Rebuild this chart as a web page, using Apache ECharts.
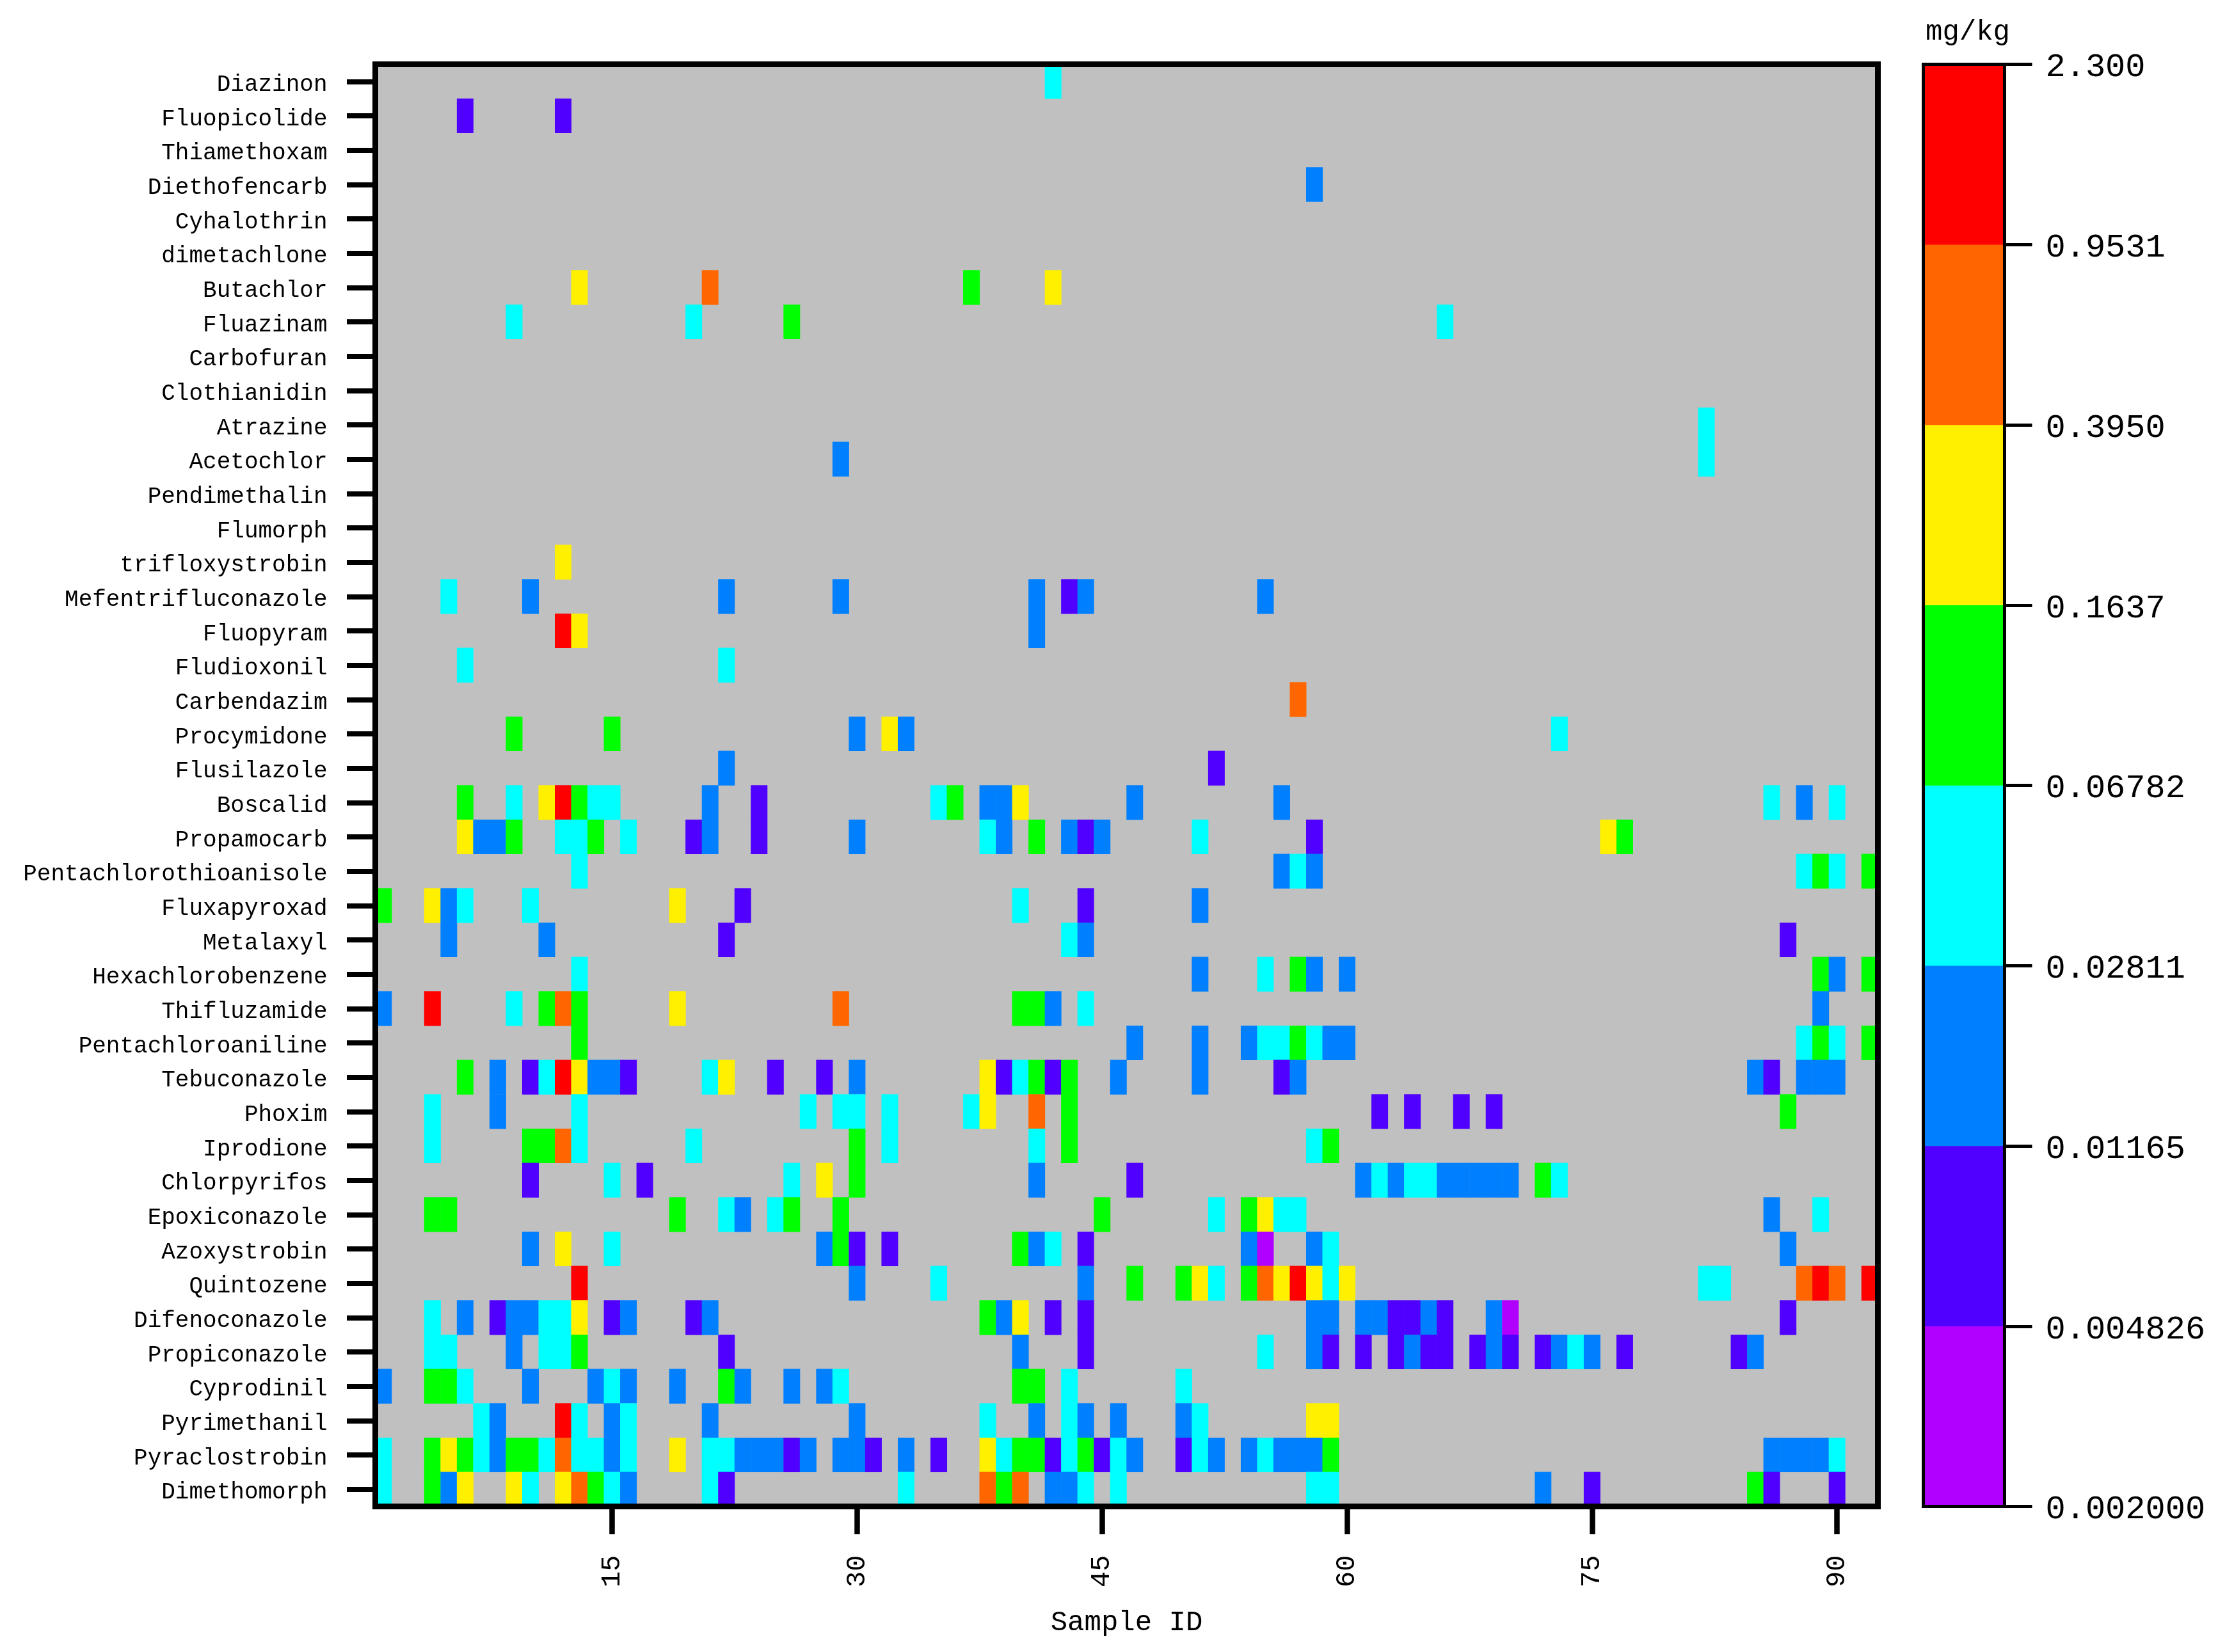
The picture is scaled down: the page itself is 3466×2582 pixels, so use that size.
<!DOCTYPE html>
<html>
<head>
<meta charset="utf-8">
<style>html,body{margin:0;padding:0;background:#fff}#c{width:3466px;height:2582px}</style>
<script src="https://cdn.jsdelivr.net/npm/echarts@6/dist/echarts.min.js"></script>
</head>
<body>
<div id="c"></div>
<script>
// Representative mg/kg concentration
const V=0.0031, I=0.0075, B=0.018, C=0.044, G=0.105, Y=0.25, O=0.61, R=1.48;

const pesticides = ['Diazinon','Fluopicolide','Thiamethoxam','Diethofencarb','Cyhalothrin','dimetachlone','Butachlor','Fluazinam','Carbofuran','Clothianidin','Atrazine','Acetochlor','Pendimethalin','Flumorph','trifloxystrobin','Mefentrifluconazole','Fluopyram','Fludioxonil','Carbendazim','Procymidone','Flusilazole','Boscalid','Propamocarb','Pentachlorothioanisole','Fluxapyroxad','Metalaxyl','Hexachlorobenzene','Thifluzamide','Pentachloroaniline','Tebuconazole','Phoxim','Iprodione','Chlorpyrifos','Epoxiconazole','Azoxystrobin','Quintozene','Difenoconazole','Propiconazole','Cyprodinil','Pyrimethanil','Pyraclostrobin','Dimethomorph'];

const sampleCount = 92;
const thresholds = [0.002,0.004826,0.01165,0.02811,0.06782,0.1637,0.395,0.9531,2.3];
const thresholdLabels = ['0.002000','0.004826','0.01165','0.02811','0.06782','0.1637','0.3950','0.9531','2.300'];
const bandColors = ['#b000ff','#5000ff','#0080ff','#00ffff','#00ff00','#fff000','#ff6600','#ff0000'];
const bandValues = [V,I,B,C,G,Y,O,R];

// [sample id, concentration] for each pesticide
const Diazinon=[[42,C]];
const Fluopicolide=[[6,I],[12,I]];
const Thiamethoxam=[];
const Diethofencarb=[[58,B]];
const Cyhalothrin=[];
const dimetachlone=[];
const Butachlor=[[13,Y],[21,O],[37,G],[42,Y]];
const Fluazinam=[[9,C],[20,C],[26,G],[66,C]];
const Carbofuran=[];
const Clothianidin=[];
const Atrazine=[[82,C]];
const Acetochlor=[[29,B],[82,C]];
const Pendimethalin=[];
const Flumorph=[];
const trifloxystrobin=[[12,Y]];
const Mefentrifluconazole=[[5,C],[10,B],[22,B],[29,B],[41,B],[43,I],[44,B],[55,B]];
const Fluopyram=[[12,R],[13,Y],[41,B]];
const Fludioxonil=[[6,C],[22,C]];
const Carbendazim=[[57,O]];
const Procymidone=[[9,G],[15,G],[30,B],[32,Y],[33,B],[73,C]];
const Flusilazole=[[22,B],[52,I]];
const Boscalid=[[6,G],[9,C],[11,Y],[12,R],[13,G],[14,C],[15,C],[21,B],[24,I],[35,C],[36,G],[38,B],[39,B],[40,Y],[47,B],[56,B],[86,C],[88,B],[90,C]];
const Propamocarb=[[6,Y],[7,B],[8,B],[9,G],[12,C],[13,C],[14,G],[16,C],[20,I],[21,B],[24,I],[30,B],[38,C],[39,B],[41,G],[43,B],[44,I],[45,B],[51,C],[58,I],[76,Y],[77,G]];
const Pentachlorothioanisole=[[13,C],[56,B],[57,C],[58,B],[88,C],[89,G],[90,C],[92,G]];
const Fluxapyroxad=[[1,G],[4,Y],[5,B],[6,C],[10,C],[19,Y],[23,I],[40,C],[44,I],[51,B]];
const Metalaxyl=[[5,B],[11,B],[22,I],[43,C],[44,B],[87,I]];
const Hexachlorobenzene=[[13,C],[51,B],[55,C],[57,G],[58,B],[60,B],[89,G],[90,B],[92,G]];
const Thifluzamide=[[1,B],[4,R],[9,C],[11,G],[12,O],[13,G],[19,Y],[29,O],[40,G],[41,G],[42,B],[44,C],[89,B]];
const Pentachloroaniline=[[13,G],[47,B],[51,B],[54,B],[55,C],[56,C],[57,G],[58,C],[59,B],[60,B],[88,C],[89,G],[90,C],[92,G]];
const Tebuconazole=[[6,G],[8,B],[10,I],[11,C],[12,R],[13,Y],[14,B],[15,B],[16,I],[21,C],[22,Y],[25,I],[28,I],[30,B],[38,Y],[39,I],[40,C],[41,G],[42,I],[43,G],[46,B],[51,B],[56,I],[57,B],[85,B],[86,I],[88,B],[89,B],[90,B]];
const Phoxim=[[4,C],[8,B],[13,C],[27,C],[29,C],[30,C],[32,C],[37,C],[38,Y],[41,O],[43,G],[62,I],[64,I],[67,I],[69,I],[87,G]];
const Iprodione=[[4,C],[10,G],[11,G],[12,O],[13,C],[20,C],[30,G],[32,C],[41,C],[43,G],[58,C],[59,G]];
const Chlorpyrifos=[[10,I],[15,C],[17,I],[26,C],[28,Y],[30,G],[41,B],[47,I],[61,B],[62,C],[63,B],[64,C],[65,C],[66,B],[67,B],[68,B],[69,B],[70,B],[72,G],[73,C]];
const Epoxiconazole=[[4,G],[5,G],[19,G],[22,C],[23,B],[25,C],[26,G],[29,G],[45,G],[52,C],[54,G],[55,Y],[56,C],[57,C],[86,B],[89,C]];
const Azoxystrobin=[[10,B],[12,Y],[15,C],[28,B],[29,G],[30,I],[32,I],[40,G],[41,B],[42,C],[44,I],[54,B],[55,V],[58,B],[59,C],[87,B]];
const Quintozene=[[13,R],[30,B],[35,C],[44,B],[47,G],[50,G],[51,Y],[52,C],[54,G],[55,O],[56,Y],[57,R],[58,Y],[59,C],[60,Y],[82,C],[83,C],[88,O],[89,R],[90,O],[92,R]];
const Difenoconazole=[[4,C],[6,B],[8,I],[9,B],[10,B],[11,C],[12,C],[13,Y],[15,I],[16,B],[20,I],[21,B],[38,G],[39,B],[40,Y],[42,I],[44,I],[58,B],[59,B],[61,B],[62,B],[63,I],[64,I],[65,B],[66,I],[69,B],[70,V],[87,I]];
const Propiconazole=[[4,C],[5,C],[9,B],[11,C],[12,C],[13,G],[22,I],[40,B],[44,I],[55,C],[58,B],[59,I],[61,I],[63,I],[64,B],[65,I],[66,I],[68,I],[69,B],[70,I],[72,I],[73,B],[74,C],[75,B],[77,I],[84,I],[85,B]];
const Cyprodinil=[[1,B],[4,G],[5,G],[6,C],[10,B],[14,B],[15,C],[16,B],[19,B],[22,G],[23,B],[26,B],[28,B],[29,C],[40,G],[41,G],[43,C],[50,C]];
const Pyrimethanil=[[7,C],[8,B],[12,R],[13,C],[15,B],[16,C],[21,B],[30,B],[38,C],[41,B],[43,C],[44,B],[46,B],[50,B],[51,C],[58,Y],[59,Y]];
const Pyraclostrobin=[[1,C],[4,G],[5,Y],[6,G],[7,C],[8,B],[9,G],[10,G],[11,C],[12,O],[13,C],[14,C],[15,B],[16,C],[19,Y],[21,C],[22,C],[23,B],[24,B],[25,B],[26,I],[27,B],[29,B],[30,B],[31,I],[33,B],[35,I],[38,Y],[39,C],[40,G],[41,G],[42,I],[43,C],[44,G],[45,I],[46,C],[47,B],[50,I],[51,C],[52,B],[54,B],[55,C],[56,B],[57,B],[58,B],[59,G],[86,B],[87,B],[88,B],[89,B],[90,C]];
const Dimethomorph=[[1,C],[4,G],[5,B],[6,Y],[9,Y],[10,C],[12,Y],[13,O],[14,G],[15,C],[16,B],[21,C],[22,I],[33,C],[38,O],[39,G],[40,O],[42,B],[43,B],[44,C],[46,C],[58,C],[59,C],[72,B],[75,I],[85,G],[86,I],[90,I]];

const rows = [Diazinon,Fluopicolide,Thiamethoxam,Diethofencarb,Cyhalothrin,dimetachlone,Butachlor,Fluazinam,Carbofuran,Clothianidin,Atrazine,Acetochlor,Pendimethalin,Flumorph,trifloxystrobin,Mefentrifluconazole,Fluopyram,Fludioxonil,Carbendazim,Procymidone,Flusilazole,Boscalid,Propamocarb,Pentachlorothioanisole,Fluxapyroxad,Metalaxyl,Hexachlorobenzene,Thifluzamide,Pentachloroaniline,Tebuconazole,Phoxim,Iprodione,Chlorpyrifos,Epoxiconazole,Azoxystrobin,Quintozene,Difenoconazole,Propiconazole,Cyprodinil,Pyrimethanil,Pyraclostrobin,Dimethomorph];

const samples = Array.from({length: sampleCount}, (_, i) => String(i + 1));
const heatData = [];
rows.forEach((row, y) => row.forEach(([s, v]) => heatData.push([s - 1, y, v])));
const bandNames = bandColors.map((_, i) => 'band' + i);
const barData = bandValues.map((v, i) => [0, i, v]);

const FONT = 'Liberation Mono';
const BLACK = '#000';
const frameLine = {show: true, lineStyle: {color: BLACK, width: 9, cap: 'square'}};
const barLine = {show: true, lineStyle: {color: BLACK, width: 5, cap: 'square'}};
const showEvery15 = i => (i + 1) % 15 === 0;

const chart = echarts.init(document.getElementById('c'), null, {renderer: 'canvas'});
chart.setOption({
  animation: false,
  backgroundColor: '#fff',
  grid: [
    {left: 586.5, top: 100.5, width: 2348, height: 2254, show: true, backgroundColor: '#c0c0c0', borderWidth: 0},
    {left: 3005.5, top: 100.5, width: 127, height: 2254}
  ],
  xAxis: [
    {type: 'category', gridIndex: 0, position: 'bottom', data: samples, z: 5, boundaryGap: true,
     axisLine: frameLine,
     axisTick: {show: true, alignWithLabel: true, interval: showEvery15, length: 43.5, lineStyle: {color: BLACK, width: 8.5}},
     axisLabel: {interval: showEvery15, rotate: 90, fontFamily: FONT, fontSize: 42, color: BLACK, margin: 76},
     splitLine: {show: false},
     name: 'Sample ID', nameLocation: 'middle', nameGap: 160,
     nameTextStyle: {fontFamily: FONT, fontSize: 44, color: BLACK}},
    {type: 'category', gridIndex: 0, position: 'top', data: samples, z: 5,
     axisLine: frameLine, axisTick: {show: false}, axisLabel: {show: false}, splitLine: {show: false}},
    {type: 'category', gridIndex: 1, position: 'bottom', data: ['band'], z: 5,
     axisLine: barLine, axisTick: {show: false}, axisLabel: {show: false}, splitLine: {show: false}},
    {type: 'category', gridIndex: 1, position: 'top', data: ['band'], z: 5,
     axisLine: barLine, axisTick: {show: false}, axisLabel: {show: false}, splitLine: {show: false},
     name: 'mg/kg', nameLocation: 'middle', nameGap: 28,
     nameTextStyle: {fontFamily: FONT, fontSize: 44, color: BLACK, padding: [0, 0, 0, 12]}}
  ],
  yAxis: [
    {type: 'category', gridIndex: 0, position: 'left', inverse: true, data: pesticides, z: 5,
     axisLine: frameLine,
     axisTick: {show: true, alignWithLabel: true, interval: 0, length: 44.5, lineStyle: {color: BLACK, width: 8}},
     axisLabel: {interval: 0, margin: 75, formatter: s => '{a|' + s + '}',
       rich: {a: {fontFamily: FONT, fontSize: 36, color: BLACK, padding: [10, 0, 0, 0]}}},
     splitLine: {show: false}},
    {type: 'category', gridIndex: 0, position: 'right', inverse: true, data: pesticides, z: 5,
     axisLine: frameLine, axisTick: {show: false}, axisLabel: {show: false}, splitLine: {show: false}},
    {type: 'category', gridIndex: 1, position: 'left', data: bandNames, z: 5,
     axisLine: barLine, axisTick: {show: false}, axisLabel: {show: false}, splitLine: {show: false}},
    {type: 'value', gridIndex: 1, position: 'right', min: 0, max: thresholds.length - 1, interval: 1, z: 5,
     axisLine: barLine,
     axisTick: {show: true, length: 43, lineStyle: {color: BLACK, width: 5}},
     axisLabel: {margin: 64, showMinLabel: true, showMaxLabel: true, formatter: v => '{a|' + thresholdLabels[v] + '}',
       rich: {a: {fontFamily: FONT, fontSize: 52, color: BLACK, padding: [10, 0, 0, 0]}}},
     splitLine: {show: false}}
  ],
  visualMap: {
    type: 'piecewise', show: false, seriesIndex: [0, 1], dimension: 2,
    pieces: bandColors.map((color, i) => ({min: thresholds[i], max: thresholds[i + 1], color}))
  },
  series: [
    {type: 'heatmap', xAxisIndex: 0, yAxisIndex: 0, data: heatData, itemStyle: {borderWidth: 0}, progressive: 0, emphasis: {disabled: true}},
    {type: 'heatmap', xAxisIndex: 2, yAxisIndex: 2, data: barData, itemStyle: {borderWidth: 0}, emphasis: {disabled: true}}
  ]
});
</script>
</body>
</html>
